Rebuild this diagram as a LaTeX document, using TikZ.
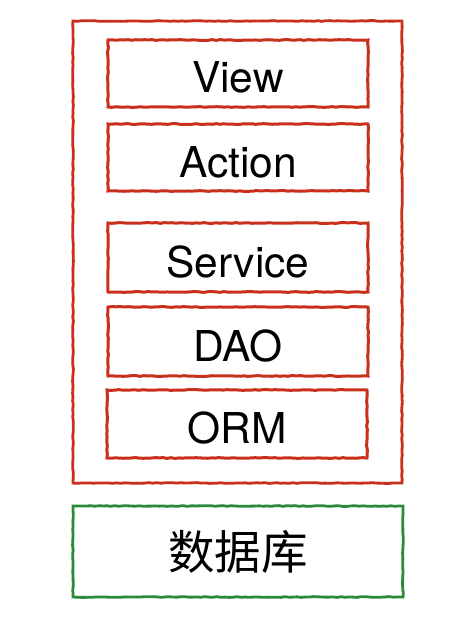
\documentclass[tikz,border=0pt]{standalone}
\usepackage{fontspec}
\usepackage{xcolor}
\setmainfont{TeX Gyre Heros}
\newfontfamily\cjk{Noto Sans CJK SC}
\usetikzlibrary{decorations.pathmorphing}

\definecolor{layerred}{HTML}{C8301C}
\definecolor{dbgreen}{HTML}{2A8A3A}

\tikzset{
  sketch/.style={decorate, decoration={random steps, segment length=4pt, amplitude=0.4pt}},
  frame/.style={draw=layerred, line width=2.8pt, sketch, minimum width=329pt, minimum height=462pt},
  layer/.style={draw=layerred, line width=3pt, sketch, minimum width=260pt, minimum height=67pt,
    text height=39pt, text depth=0pt, font=\fontsize{42.5}{46}\selectfont},
  dbbox/.style={draw=dbgreen, line width=2.8pt, sketch, minimum width=330pt, minimum height=91pt,
    font=\cjk\fontsize{46.5}{50}\selectfont}
}

\begin{document}
\begin{tikzpicture}[x=1pt, y=-1pt]
  \useasboundingbox (0,0) rectangle (475,623);

  % Outer frame
  \node (app) [frame] at (237.5,252) {};

  % Layers
  \node (view) [layer] at (238,73.5) {View};
  \node (action) [layer] at (238,157.5) {Action};
  \node (service) [layer, minimum height=69pt] at (238,257.5) {Service};
  \node (dao) [layer, minimum height=69pt] at (238,341.5) {DAO};
  \node (orm) [layer, minimum height=68pt] at (237,424) {ORM};

  % Database
  \node (db) [dbbox] at (238,551.5) {数据库};
\end{tikzpicture}
\end{document}
